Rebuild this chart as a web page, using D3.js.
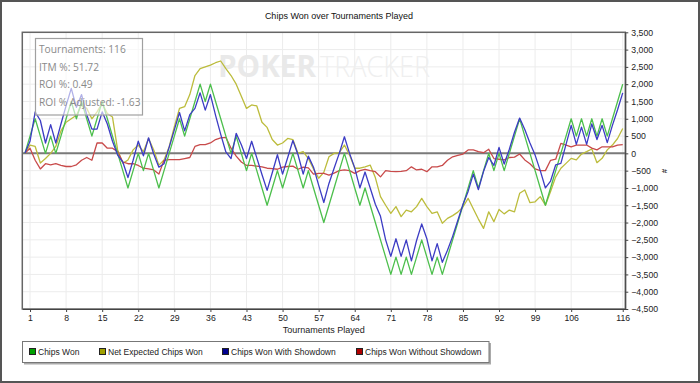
<!DOCTYPE html>
<html><head><meta charset="utf-8">
<script src="https://d3js.org/d3.v7.min.js"></script>
<style>
html,body{margin:0;padding:0;background:#fff;}
svg{display:block;}
</style></head>
<body>
<script>
// ---- data (index 0 = start, 1..116 = tournaments) ----
const chipsWon = [0,500,1000,500,0,500,0,500,1000,1500,1000,1500,1000,500,1000,1500,1000,500,0,-500,-1000,-500,0,-500,0,-500,-1000,-500,0,500,1000,500,1000,1500,2000,1500,2000,1500,1000,500,0,500,0,-500,0,-500,-1000,-1500,-1000,-500,-1000,-500,0,-500,-1000,-500,-1000,-1500,-2000,-1500,-1000,-500,0,-500,-1000,-1500,-1000,-1500,-2000,-2500,-3000,-3500,-3000,-3500,-3000,-3500,-3000,-2500,-3000,-3500,-3000,-3500,-3000,-2500,-2000,-1500,-1000,-500,-1000,-500,0,-500,0,-500,0,500,1000,500,0,-500,-1000,-1500,-1000,-500,0,500,1000,500,1000,500,1000,500,1000,500,1000,1500,2000];
const netExpected = [0,240,200,-280,-150,0,200,650,900,1000,1100,1400,1300,1000,1200,1450,1150,1050,100,-290,-190,100,240,50,430,100,-340,-190,190,770,1300,1350,1700,2250,2450,2500,2550,2620,2670,2450,2250,2000,1650,1300,1400,1370,900,750,400,240,300,430,400,0,50,-150,-450,-720,-550,-100,0,20,240,-50,-430,-430,-390,-340,-700,-1250,-1500,-1735,-1540,-1830,-1640,-1690,-1540,-1300,-1540,-1735,-1690,-2020,-1880,-1800,-1700,-1550,-1300,-1600,-1900,-2170,-1690,-1975,-1620,-1750,-1640,-1690,-1155,-1060,-1425,-1400,-1250,-1500,-1100,-680,-430,-290,-145,-190,-20,50,125,-270,-145,100,240,430,720];
const withShowdown = [0,350,1200,950,300,830,300,850,1380,1880,1330,1700,1120,700,700,1200,850,350,-50,-250,-700,-200,350,-70,450,-20,-400,-300,180,680,1180,650,1120,1300,1750,1250,1700,1100,550,40,-150,580,250,-150,350,-130,-610,-1070,-560,-40,-600,-120,370,-40,-600,-80,-400,-920,-1420,-870,-430,0,480,0,-420,-1000,-540,-1000,-1470,-1820,-2500,-2980,-2470,-2980,-2500,-3110,-2520,-2040,-2470,-3110,-2610,-3150,-2800,-2400,-1940,-1480,-1100,-600,-1050,-520,-120,-350,170,-310,120,610,1020,690,300,-50,-500,-1000,-800,-330,-290,260,810,260,760,260,850,400,810,310,810,1260,1750];
const withoutShowdown = [0,150,-200,-450,-300,-330,-300,-350,-380,-380,-330,-200,-120,-200,300,300,150,150,50,-250,-300,-300,-350,-430,-450,-480,-600,-200,-180,-180,-180,-150,-120,200,250,250,300,400,450,460,150,-80,-250,-350,-350,-370,-390,-430,-440,-460,-400,-380,-370,-460,-400,-420,-600,-580,-580,-630,-570,-500,-480,-500,-580,-500,-460,-500,-530,-680,-500,-520,-530,-520,-500,-390,-480,-460,-530,-390,-390,-350,-200,-100,-60,-20,100,100,50,20,120,-150,-170,-190,-120,-110,-20,-190,-300,-450,-500,-500,-200,-170,290,240,190,240,240,240,150,100,190,190,190,240,250];
const xTickLabels = [1,8,15,22,29,36,43,50,57,64,71,78,85,92,99,106,116];
const yTicks = [-4500,-4000,-3500,-3000,-2500,-2000,-1500,-1000,-500,0,500,1000,1500,2000,2500,3000,3500];
const seriesNames = ["Chips Won","Net Expected Chips Won","Chips Won With Showdown","Chips Won Without Showdown"];
const infoLines = ["Tournaments: 116","ITM %: 51.72","ROI %: 0.49","ROI % Adjusted: -1.63"];
const title = "Chips Won over Tournaments Played";
const xTitle = "Tournaments Played";

const lineColors = ["#4cbf4c","#bcbc3c","#3c3cc4","#c84a4a"];
const swatchColors = ["#00a000","#a0a000","#000090","#b00000"];

const W=700,H=383;
const L=22.3,R=625.3,T=32.3,B=309;
const svg=d3.select("body").append("svg").attr("width",W).attr("height",H);
const x=d3.scaleLinear().domain([-0.5,116.5]).range([L,R]);
const y=d3.scaleLinear().domain([-4500,3500]).range([B,T]);

// outer frame
svg.append("rect").attr("x",1).attr("y",1).attr("width",W-2).attr("height",H-2)
  .attr("fill","#fff").attr("stroke","#555").attr("stroke-width",2);

// title
svg.append("text").attr("x",339).attr("y",19).attr("text-anchor","middle")
  .attr("font-family","Liberation Sans, Arial, sans-serif").attr("font-size",9)
  .attr("fill","#111").text(title);

// grid
const g=svg.append("g");
g.selectAll("line.vg").data(xTickLabels).join("line")
  .attr("x1",d=>x(d)).attr("x2",d=>x(d)).attr("y1",T).attr("y2",B)
  .attr("stroke","#ececec").attr("stroke-width",1);
g.selectAll("line.hg").data(yTicks).join("line")
  .attr("x1",L).attr("x2",R).attr("y1",d=>y(d)).attr("y2",d=>y(d))
  .attr("stroke","#ececec").attr("stroke-width",1);

// watermark
svg.append("text").attr("x",218).attr("y",77).attr("font-family","Open Sans, sans-serif")
  .attr("font-weight","bold").attr("font-size",30).attr("fill","#e9e9e9")
  .attr("textLength",98).attr("lengthAdjust","spacingAndGlyphs").text("POKER");
svg.append("text").attr("x",320).attr("y",77).attr("font-family","Open Sans, sans-serif")
  .attr("font-weight","300").attr("font-size",30).attr("fill","#efefef")
  .attr("textLength",110).attr("lengthAdjust","spacingAndGlyphs").text("TRACKER");

// zero line
svg.append("line").attr("x1",L).attr("x2",R).attr("y1",y(0)).attr("y2",y(0))
  .attr("stroke","#7a7a7a").attr("stroke-width",2);

// series
const all=[chipsWon,netExpected,withShowdown,withoutShowdown];
const line=d3.line().x((d,i)=>x(i)).y(d=>y(d));
const drawOrder=[1,3,0,2];
drawOrder.forEach(k=>{
  svg.append("path").datum(all[k]).attr("d",line).attr("fill","none")
    .attr("stroke",lineColors[k]).attr("stroke-width",1.3).attr("stroke-linejoin","round");
});

// plot frame
svg.append("rect").attr("x",L).attr("y",T).attr("width",R-L).attr("height",B-T)
  .attr("fill","none").attr("stroke","#666").attr("stroke-width",1.5);

// axes
const xa=svg.append("g").attr("transform",`translate(0,${B})`)
  .call(d3.axisBottom(x).tickValues(xTickLabels).tickSize(3).tickSizeOuter(0).tickFormat(d3.format("d")));
xa.select(".domain").attr("stroke","#444");
xa.selectAll("text").attr("font-family","Liberation Sans, Arial, sans-serif").attr("font-size",8.7).attr("fill","#222").attr("dy","0.7em");
xa.selectAll(".tick line").attr("stroke","#444");

const ya=svg.append("g").attr("transform",`translate(${R},0)`)
  .call(d3.axisRight(y).tickValues(yTicks).tickSize(3).tickSizeOuter(0).tickFormat(d3.format(",")));
ya.select(".domain").attr("stroke","#444");
ya.selectAll("text").attr("font-family","Liberation Sans, Arial, sans-serif").attr("font-size",8.7).attr("fill","#222").attr("x",6);
ya.selectAll(".tick line").attr("stroke","#444");

// y unit symbol
svg.append("text").attr("transform","translate(664,171) rotate(-90)").attr("text-anchor","middle")
  .attr("font-family","Liberation Sans, Arial, sans-serif").attr("font-size",8).attr("font-weight","bold")
  .attr("fill","#333").attr("dy","0.35em").text("#");

// x title
svg.append("text").attr("x",(L+R)/2).attr("y",333).attr("text-anchor","middle")
  .attr("font-family","Liberation Sans, Arial, sans-serif").attr("font-size",9)
  .attr("fill","#222").text(xTitle);

// info box
svg.append("rect").attr("x",35.5).attr("y",38.5).attr("width",107).attr("height",76.5)
  .attr("fill","#fff").attr("fill-opacity",0.6).attr("stroke","#a0a0a0").attr("stroke-width",1.2);
infoLines.forEach((s,i)=>{
  svg.append("text").attr("x",39).attr("y",53+i*17.5).attr("font-family","Open Sans, sans-serif")
    .attr("font-size",10.2).attr("fill","#8a8a8a").text(s);
});

// legend
svg.append("rect").attr("x",24).attr("y",343).attr("width",467).attr("height",21.5).attr("fill","#aaa");
svg.append("rect").attr("x",22.5).attr("y",341.5).attr("width",466.5).attr("height",21)
  .attr("fill","#fff").attr("stroke","#777").attr("stroke-width",1);
const legX=[29,99,222,356];
seriesNames.forEach((s,i)=>{
  svg.append("rect").attr("x",legX[i]+0.5).attr("y",348.5).attr("width",6).attr("height",6)
    .attr("fill",swatchColors[i]).attr("stroke","#222").attr("stroke-width",1);
  svg.append("text").attr("x",legX[i]+9).attr("y",355).attr("font-family","Liberation Sans, Arial, sans-serif")
    .attr("font-size",8.5).attr("fill","#222").text(s);
});
</script>
</body></html>
